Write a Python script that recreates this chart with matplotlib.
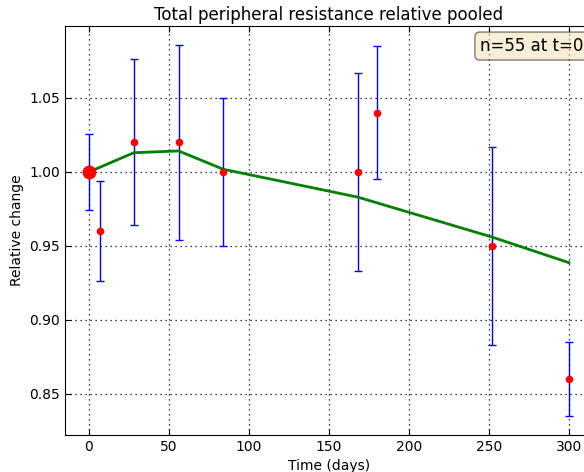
import numpy as np
import matplotlib
matplotlib.use("Agg")
import matplotlib.pyplot as plt

# measured relative values (pooled)
t_days = [0, 7, 28, 56, 84, 168, 180, 252, 300]
rel_mean = [1.00, 0.96, 1.02, 1.02, 1.00, 1.00, 1.04, 0.95, 0.86]
rel_err = [0.0255, 0.034, 0.056, 0.066, 0.05, 0.067, 0.045, 0.067, 0.025]

# model fit
fit_t = [0, 28, 56, 84, 168, 252, 300]
fit_y = [1.000, 1.013, 1.0142, 1.0018, 0.983, 0.956, 0.9387]

plt.rcParams['xtick.direction'] = 'in'
plt.rcParams['ytick.direction'] = 'in'

fig = plt.figure(figsize=(5.84, 4.72), dpi=100)
ax = fig.add_axes([0.1113, 0.0784, 0.904, 0.8665])

ax.errorbar(t_days, rel_mean, yerr=rel_err, fmt='none', ecolor='blue',
            elinewidth=1, capsize=3, capthick=1, zorder=2)
ax.plot(t_days[1:], rel_mean[1:], 'o', color='red', markersize=5.5,
        markeredgewidth=0, zorder=3)
ax.plot(t_days[0], rel_mean[0], 'o', color='red', markersize=10,
        markeredgewidth=0, zorder=3)
ax.plot(fit_t, fit_y, color='green', linewidth=2, zorder=2)

ax.set_xlim(-15, 315)
ax.set_ylim(0.8223, 1.0986)
ax.set_xticks([0, 50, 100, 150, 200, 250, 300])
ax.set_yticks([0.85, 0.90, 0.95, 1.00, 1.05])
ax.set_yticklabels(['0.85', '0.90', '0.95', '1.00', '1.05'])
ax.tick_params(labelsize=10, length=4, top=True, right=True)
ax.grid(True, linestyle=(0, (1, 3)), color='black', linewidth=0.9)

ax.set_title("Total peripheral resistance relative pooled", fontsize=12, pad=4)
ax.set_xlabel("Time (days)", fontsize=10, labelpad=4)
ax.set_ylabel("Relative change", fontsize=10)

ax.text(0.786, 0.951, "n=55 at t=0", transform=ax.transAxes, fontsize=12,
        va='center', ha='left',
        bbox=dict(boxstyle='round', facecolor='wheat', alpha=0.5))

fig.savefig("out.png", dpi=100)
